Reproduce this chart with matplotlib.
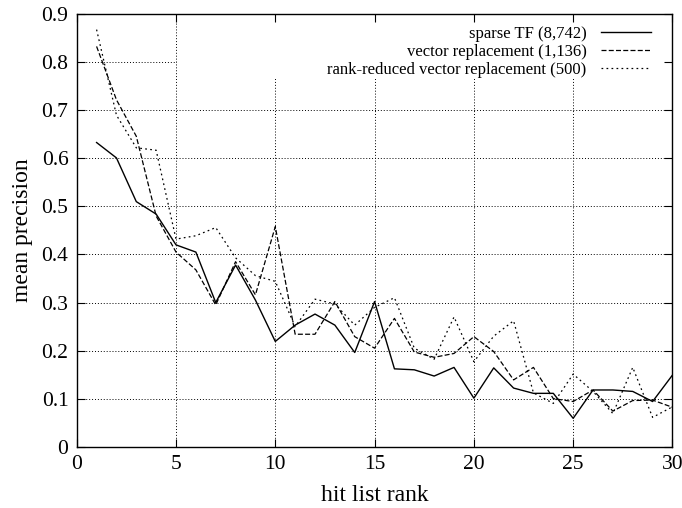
import numpy as np
import matplotlib.pyplot as plt
from matplotlib.patches import Rectangle

# hit list ranks 1..30
rank = np.arange(1, 31)

sparse_tf = [0.633, 0.601, 0.510, 0.484, 0.420, 0.405, 0.300, 0.378, 0.305, 0.219,
             0.253, 0.276, 0.253, 0.196, 0.302, 0.162, 0.160, 0.147, 0.165, 0.101,
             0.164, 0.122, 0.111, 0.111, 0.059, 0.118, 0.118, 0.115, 0.094, 0.149]
vector_repl = [0.833, 0.722, 0.646, 0.480, 0.405, 0.368, 0.295, 0.385, 0.316, 0.458,
               0.234, 0.234, 0.302, 0.229, 0.205, 0.267, 0.197, 0.186, 0.194, 0.229,
               0.198, 0.139, 0.165, 0.100, 0.094, 0.118, 0.074, 0.096, 0.097, 0.082]
rank_reduced = [0.868, 0.690, 0.622, 0.617, 0.432, 0.439, 0.456, 0.393, 0.356, 0.344,
                0.250, 0.307, 0.297, 0.253, 0.290, 0.310, 0.205, 0.182, 0.270, 0.177,
                0.230, 0.262, 0.112, 0.090, 0.151, 0.115, 0.069, 0.165, 0.061, 0.083]

labels = ["sparse TF (8,742)", "vector replacement (1,136)",
          "rank-reduced vector replacement (500)"]

plt.rcParams['font.family'] = ['Liberation Serif', 'DejaVu Serif']

fig = plt.figure(figsize=(6.82, 5.08), dpi=100)
pos = [0.1125, 0.1207, 0.8735, 0.8513]
xticks = np.arange(0, 31, 5)
yticks = np.arange(0, 0.91, 0.1)

# background axes: dotted grid, partly hidden behind the key box
gx = fig.add_axes(pos, zorder=0)
gx.set_xlim(0, 30)
gx.set_ylim(0, 0.9)
gx.set_xticks(xticks)
gx.set_yticks(yticks)
gx.tick_params(length=0, labelbottom=False, labelleft=False)
gx.grid(True, color='black', linestyle=(0, (1, 2)), lw=0.7)
gx.set_axisbelow(True)
for s in gx.spines.values():
    s.set_visible(False)
gx.add_patch(Rectangle((5.06, 0.768), 30 - 5.06, 0.2, facecolor='white',
                       edgecolor='none', zorder=1))

# main axes
ax = fig.add_axes(pos, zorder=1)
ax.patch.set_alpha(0)
ax.plot(rank, sparse_tf, color='black', lw=1.0, label=labels[0])
ax.plot(rank, vector_repl, color='black', lw=0.9, linestyle=(0, (4, 1.8)), label=labels[1])
ax.plot(rank, rank_reduced, color='black', lw=0.9, linestyle=(0, (1.4, 2.6)), label=labels[2])

ax.set_xlim(0, 30)
ax.set_ylim(0, 0.9)
ax.set_xticks(xticks)
ax.set_yticks(yticks)
ax.set_yticklabels(["0"] + ["%.1f" % v for v in yticks[1:]])
ax.tick_params(direction='in', top=True, right=True, length=6, width=0.8,
               labelsize=15.5, pad=6)
for s in ax.spines.values():
    s.set_linewidth(1.0)

ax.set_xlabel("hit list rank", fontsize=17, labelpad=8)
ax.set_ylabel("mean precision", fontsize=17, labelpad=6)

leg = ax.legend(loc='upper right', bbox_to_anchor=(0.976, 0.991), markerfirst=False,
                fontsize=12, frameon=False, handlelength=2.95, handletextpad=0.9,
                labelspacing=0.13, borderaxespad=0, borderpad=0.45)
for col in leg._legend_handle_box.get_children():
    col.align = 'right'

fig.savefig("out.png", dpi=100)
